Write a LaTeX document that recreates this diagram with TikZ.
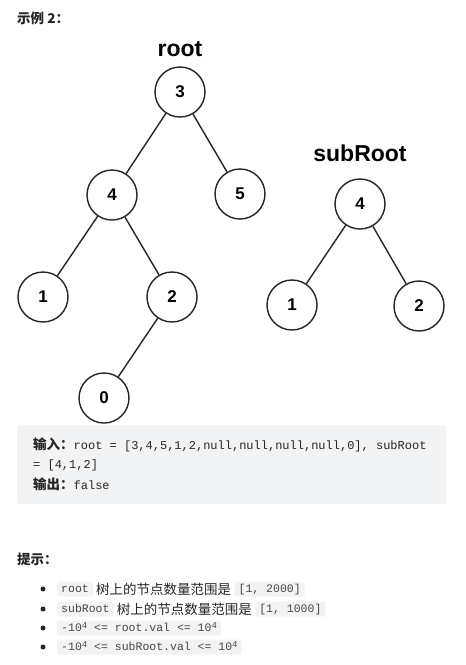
\documentclass[tikz,border=0pt]{standalone}
\usepackage{fontspec}
\setmainfont{Liberation Sans}
\setmonofont{Liberation Mono}
\newfontfamily\cjk{Noto Sans CJK SC}
\usetikzlibrary{positioning}
\definecolor{ink}{HTML}{262626}
\definecolor{codebg}{HTML}{F2F3F5}
\definecolor{chipbg}{HTML}{F2F3F5}
\newcommand{\supfour}{\raisebox{3.5pt}{\fontsize{9}{10}\selectfont 4}}

\begin{document}
\begin{tikzpicture}[x=1pt,y=-1pt,
  tnode/.style={circle,draw=ink,line width=1.4pt,minimum size=50pt,inner sep=0pt,
    font=\fontsize{17}{19}\selectfont\bfseries},
  tlabel/.style={font=\fontsize{23}{26}\selectfont\bfseries},
  edge/.style={draw=ink,line width=1.4pt},
  ctext/.style={anchor=west,inner sep=0pt,text=ink,font=\fontsize{13.5}{16}\selectfont\cjk},
  codeline/.style={anchor=west,inner sep=0pt,text=ink},
  chip/.style={fill=chipbg,rounded corners=2pt,inner xsep=4pt,inner ysep=0pt,
    text height=11pt,text depth=4pt,text=ink!85,font=\fontsize{11.5}{13}\selectfont\ttfamily},
  dot/.style={circle,fill=ink,inner sep=0pt,minimum size=5pt}]
\useasboundingbox (0,0) rectangle (466,665);
\fill [white] (0,0) rectangle (466,665);

% heading
\node [ctext] (head) at (17,18) {\bfseries 示例 2：};

% left tree
\node [tlabel] (rootlbl) at (180,49) {root};
\node [tnode] (r3) at (180,92) {3};
\node [tnode] (r4) at (112,195) {4};
\node [tnode] (r5) at (240,194) {5};
\node [tnode] (r1) at (43,297) {1};
\node [tnode] (r2) at (172,297) {2};
\node [tnode] (r0) at (104,398) {0};
\draw [edge] (r3) -- (r4);
\draw [edge] (r3) -- (r5);
\draw [edge] (r4) -- (r1);
\draw [edge] (r4) -- (r2);
\draw [edge] (r2) -- (r0);

% right tree
\node [tlabel] (sublbl) at (360,153) {subRoot};
\node [tnode] (s4) at (360,204) {4};
\node [tnode] (s1) at (292,305) {1};
\node [tnode] (s2) at (419,306) {2};
\draw [edge] (s4) -- (s1);
\draw [edge] (s4) -- (s2);

% example box
\fill [codebg,rounded corners=3pt] (17,425) rectangle (446,504);
\node [codeline] (in1) at (33,445) {{\cjk\bfseries\fontsize{13.5}{16}\selectfont 输入：}{\ttfamily\fontsize{12}{14}\selectfont root = [3,4,5,1,2,null,null,null,null,0], subRoot}};
\node [codeline] (in2) at (33,465) {\ttfamily\fontsize{12}{14}\selectfont = [4,1,2]};
\node [codeline] (out) at (33,484) {{\cjk\bfseries\fontsize{13.5}{16}\selectfont 输出：}{\ttfamily\fontsize{12}{14}\selectfont false}};

% hints
\node [ctext] (hint) at (17,559) {\bfseries 提示：};

\node [dot] (b1) at (43,589) {};
\node [chip,anchor=west] (c1) at (57,589) {root};
\node [ctext,right=3pt of c1] (t1) {树上的节点数量范围是};
\node [chip,right=3pt of t1] (d1) {[1, 2000]};

\node [dot] (b2) at (43,609) {};
\node [chip,anchor=west] (c2) at (57,609) {subRoot};
\node [ctext,right=3pt of c2] (t2) {树上的节点数量范围是};
\node [chip,right=3pt of t2] (d2) {[1, 1000]};

\node [dot] (b3) at (43,628) {};
\node [chip,anchor=west] (c3) at (57,628) {-10\supfour{} <= root.val <= 10\supfour};

\node [dot] (b4) at (43,647) {};
\node [chip,anchor=west] (c4) at (57,647) {-10\supfour{} <= subRoot.val <= 10\supfour};
\end{tikzpicture}
\end{document}
